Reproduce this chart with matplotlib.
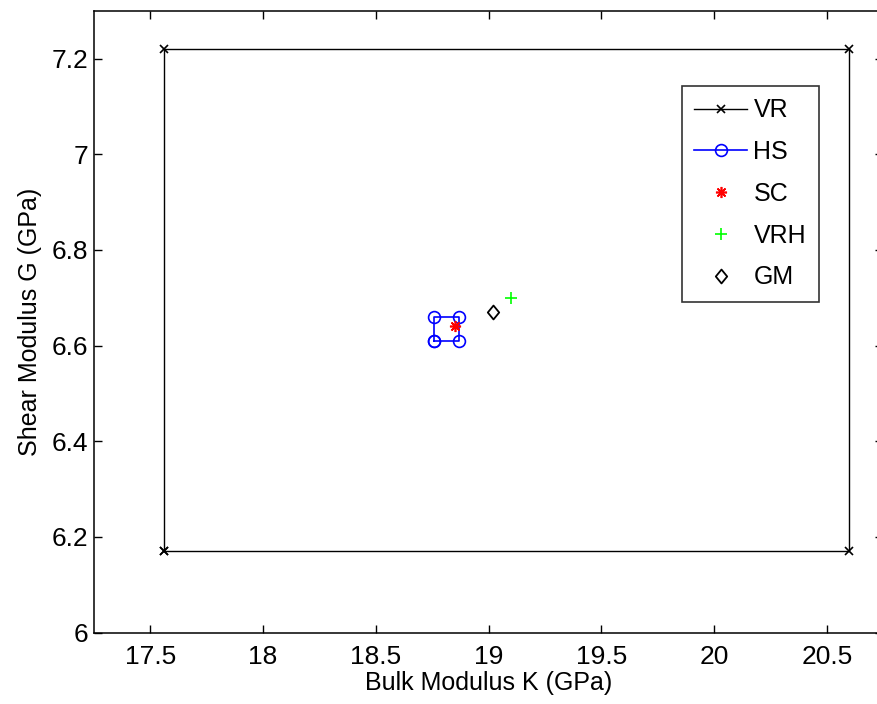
import matplotlib
matplotlib.use("Agg")
import matplotlib.pyplot as plt
from matplotlib.path import Path

plt.rcParams['font.family'] = ['Liberation Sans', 'DejaVu Sans']

# Data
vr_K = [17.56, 20.60, 20.60, 17.56, 17.56]
vr_G = [6.17, 6.17, 7.22, 7.22, 6.17]
hs_K = [18.76, 18.87, 18.87, 18.76, 18.76]
hs_G = [6.61, 6.61, 6.66, 6.66, 6.61]
sc_K = [18.85]
sc_G = [6.64]
vrh_K = [19.10]
vrh_G = [6.70]
gm_K = [19.02]
gm_G = [6.67]

xticks = [17.5, 18, 18.5, 19, 19.5, 20, 20.5]
xticklabels = ['17.5', '18', '18.5', '19', '19.5', '20', '20.5']
yticks = [6, 6.2, 6.4, 6.6, 6.8, 7, 7.2]
yticklabels = ['6', '6.2', '6.4', '6.6', '6.8', '7', '7.2']

diamond = Path([(0, 1), (0.82, 0), (0, -1), (-0.82, 0), (0, 1)],
               [Path.MOVETO, Path.LINETO, Path.LINETO, Path.LINETO, Path.CLOSEPOLY])

fig = plt.figure(figsize=(8.78, 7.04), dpi=100)
ax = fig.add_axes([0.107, 0.1013, 0.899, 0.8835])

ax.plot(vr_K, vr_G, color='black', lw=1.0, marker='x', ms=6, mew=1.2, label='VR')
ax.plot(hs_K, hs_G, color='blue', lw=1.2, marker='o', ms=8.5, mfc='none', mew=1.2, label='HS')
ax.plot(sc_K, sc_G, ls='none', color='red', marker=(8, 2, 0), ms=8, mew=1.2, label='SC')
ax.plot(vrh_K, vrh_G, ls='none', color='#00FF00', marker='+', ms=8.5, mew=1.2, label='VRH')
ax.plot(gm_K, gm_G, ls='none', color='black', marker=diamond, ms=10, mfc='none', mew=1.3, label='GM')

ax.set_xlim(17.25, 20.75)
ax.set_ylim(6.0, 7.3)
ax.set_xticks(xticks)
ax.set_xticklabels(xticklabels)
ax.set_yticks(yticks)
ax.set_yticklabels(yticklabels)
ax.tick_params(direction='in', length=5.5, width=1.0, top=True, right=True,
               labelsize=19, pad=9)
ax.tick_params(axis='y', pad=4)
for s in ax.spines.values():
    s.set_linewidth(1.1)

ax.set_xlabel('Bulk Modulus K (GPa)', fontsize=18, labelpad=1)
ax.set_ylabel('Shear Modulus G (GPa)', fontsize=18, labelpad=7)

leg = ax.legend(loc='upper left', bbox_to_anchor=(0.745, 0.879), bbox_transform=ax.transAxes,
                fontsize=18, frameon=True, fancybox=False, edgecolor='black',
                handlelength=2.12, handletextpad=0.24, labelspacing=0.71,
                borderpad=0.5, borderaxespad=0)
leg.get_frame().set_linewidth(1.2)

fig.savefig('out.png', dpi=100)
